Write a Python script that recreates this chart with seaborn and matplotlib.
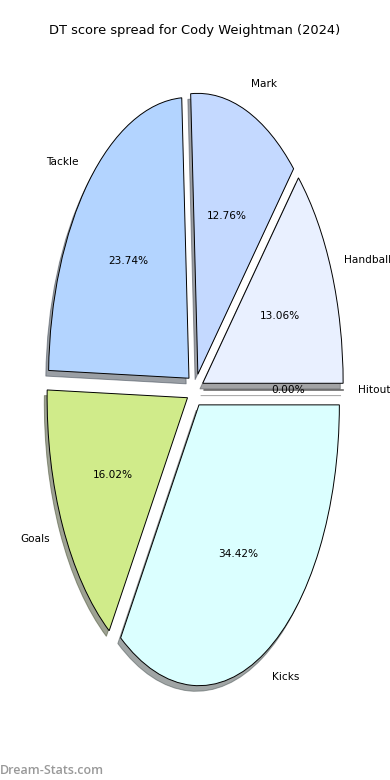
import matplotlib
matplotlib.use("Agg")
import matplotlib.pyplot as plt
import seaborn as sns

# DT score breakdown
labels = ["Handball", "Mark", "Tackle", "Goals", "Kicks", "Hitout"]
shares = [13.06, 12.76, 23.74, 16.02, 34.42, 0.00]
colors = ["#e9f0ff", "#c4d9ff", "#b3d4ff", "#d0eb8a", "#dbffff", "#dddddd"]
explode = [0.06] * len(labels)

sns.set_style("white")
plt.rcParams['font.family'] = ['DejaVu Sans']

fig = plt.figure(figsize=(3.9, 7.8), dpi=100)
ax = fig.add_axes([0.05, 0.05, 0.9, 0.9])
ax.pie(shares, labels=labels, colors=sns.color_palette(colors), explode=explode,
       autopct="%1.2f%%", startangle=0, labeldistance=1.1,
       shadow={"ox": -0.0144, "oy": -0.0144},
       wedgeprops={"edgecolor": "black", "linewidth": 0.7},
       textprops={"fontsize": 7.6, "color": "black"})
ax.set_aspect("auto")
ax.set_xlim(-1.25, 1.25)
ax.set_ylim(-1.25, 1.25)
ax.set_title("DT score spread for Cody Weightman (2024)", fontsize=9.4, color="black", pad=3.5)

fig.text(0.0, 0.004, "Dream-Stats.com", fontsize=9.0, color="#999999",
         family="Open Sans", weight="semibold", ha="left", va="bottom")

plt.savefig("out.png", dpi=100)
